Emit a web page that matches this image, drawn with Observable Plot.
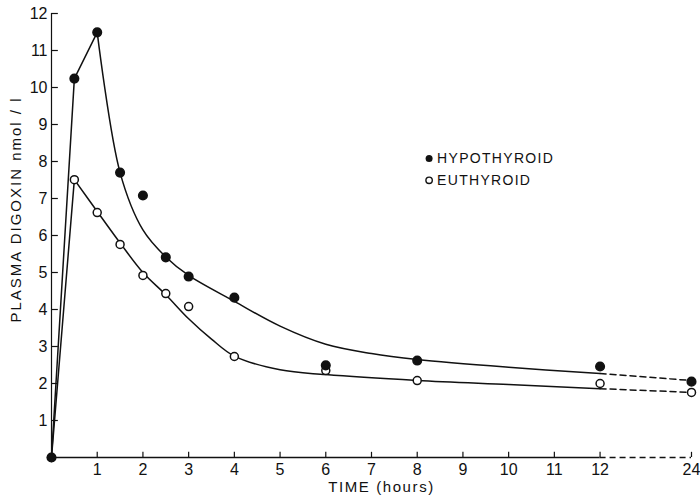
<!DOCTYPE html>
<html>
<head>
<meta charset="utf-8">
<script src="https://cdn.jsdelivr.net/npm/d3@7"></script>
<script src="https://cdn.jsdelivr.net/npm/@observablehq/plot@0.6"></script>
<style>
  html, body { margin: 0; padding: 0; background: #fff; }
  #chart svg { display: block; }
</style>
</head>
<body>
<div id="chart"></div>
<script>
// Measured data (time in hours, plasma digoxin nmol/l)
const hypoTimes  = [0, 0.5, 1, 1.5, 2, 2.5, 3, 4, 6, 8, 12, 24];
const hypoValues = [0, 10.24, 11.49, 7.70, 7.08, 5.41, 4.89, 4.32, 2.49, 2.62, 2.46, 2.05];
const euTimes    = [0, 0.5, 1, 1.5, 2, 2.5, 3, 4, 6, 8, 12, 24];
const euValues   = [0, 7.51, 6.62, 5.76, 4.92, 4.43, 4.08, 2.73, 2.35, 2.08, 2.00, 1.76];

// Fitted curves
const hypoRiseT = [0, 0.5, 1];
const hypoRiseV = [0, 10.24, 11.49];
const hypoFitT  = [1, 1.5, 2, 2.5, 3, 4, 5, 6, 7, 8, 10, 12];
const hypoFitV  = [11.49, 7.70, 6.15, 5.42, 4.92, 4.22, 3.55, 3.06, 2.81, 2.65, 2.44, 2.27];
const hypoDashT = [12, 24];
const hypoDashV = [2.27, 2.08];

const euRiseT = [0, 0.5];
const euRiseV = [0, 7.51];
const euFitT  = [0.5, 1, 1.5, 2, 2.5, 3, 3.5, 4, 5, 6, 8, 10, 12];
const euFitV  = [7.51, 6.65, 5.8, 5.0, 4.4, 3.75, 3.2, 2.74, 2.37, 2.24, 2.08, 1.97, 1.86];
const euDashT = [12, 24];
const euDashV = [1.86, 1.76];

const xTickValues = [1, 2, 3, 4, 5, 6, 7, 8, 9, 10, 11, 12, 24];
const yTickValues = [1, 2, 3, 4, 5, 6, 7, 8, 9, 10, 11, 12];

const seriesNames = ["HYPOTHYROID", "EUTHYROID"];
const xLabel = "TIME (hours)";
const yLabel = "PLASMA DIGOXIN nmol / l";

// broken axis: 12 -> 24 h is drawn compressed to 2 units
const brk = t => (t > 12 ? 12 + (t - 12) / 6 : t);
const pts = (T, V) => T.map((t, i) => ({t: brk(t), v: V[i]}));

const font = "'Liberation Sans', Arial, sans-serif";

const chart = Plot.plot({
  width: 700,
  height: 501,
  marginLeft: 51,
  marginRight: 9,
  marginTop: 13,
  marginBottom: 44,
  style: {fontFamily: font, fontSize: "15px", color: "#111", background: "#fff"},
  x: {type: "linear", domain: [0, 14]},
  y: {type: "linear", domain: [0, 12]},
  marks: [
    // axes lines
    Plot.ruleY([0], {x1: 0, x2: 12, stroke: "#111", strokeWidth: 1.4}),
    Plot.ruleY([0], {x1: 12, x2: 14, stroke: "#111", strokeWidth: 1.4, strokeDasharray: "6,4"}),
    Plot.ruleX([0], {y1: 0, y2: 12, stroke: "#111", strokeWidth: 1.2}),
    // inward ticks
    Plot.ruleX(xTickValues, {x: brk, y1: 0, y2: 0.14, stroke: "#111", strokeWidth: 1.2}),
    Plot.ruleY(yTickValues, {y: d => d, x1: 0, x2: 0.15, stroke: "#111", strokeWidth: 1.2}),
    Plot.axisX(xTickValues.map(brk), {tickSize: 0, tickPadding: 6, fontSize: 16,
      tickFormat: d => String(d > 12 ? Math.round(12 + (d - 12) * 6) : d), label: null}),
    Plot.axisY(yTickValues, {tickSize: 0, tickPadding: 4, fontSize: 16, label: null}),
    // axis titles
    Plot.text([yLabel], {frameAnchor: "left", dx: -35, dy: -26, rotate: -90, fontSize: 15,
      textAnchor: "middle"}),
    Plot.text([xLabel], {frameAnchor: "bottom", dx: 10, dy: 34, fontSize: 15,
      textAnchor: "middle"}),
    // fitted curves
    Plot.line(pts(euRiseT, euRiseV), {x: "t", y: "v", stroke: "#111", strokeWidth: 1.5}),
    Plot.line(pts(euFitT, euFitV), {x: "t", y: "v", stroke: "#111", strokeWidth: 1.5, curve: "catmull-rom"}),
    Plot.line(pts(euDashT, euDashV), {x: "t", y: "v", stroke: "#111", strokeWidth: 1.5, strokeDasharray: "6,4"}),
    Plot.line(pts(hypoRiseT, hypoRiseV), {x: "t", y: "v", stroke: "#111", strokeWidth: 1.5}),
    Plot.line(pts(hypoFitT, hypoFitV), {x: "t", y: "v", stroke: "#111", strokeWidth: 1.5, curve: "catmull-rom"}),
    Plot.line(pts(hypoDashT, hypoDashV), {x: "t", y: "v", stroke: "#111", strokeWidth: 1.5, strokeDasharray: "6,4"}),
    // observed points
    Plot.dot(pts(euTimes, euValues), {x: "t", y: "v", r: 4, fill: "#fff", stroke: "#111", strokeWidth: 1.5}),
    Plot.dot(pts(hypoTimes, hypoValues), {x: "t", y: "v", r: 4.3, fill: "#111", stroke: "#111"}),
    // legend
    Plot.dot([0], {x: 8.26, y: 8.08, r: 3.5, fill: "#111"}),
    Plot.dot([0], {x: 8.26, y: 7.49, r: 3.2, fill: "#fff", stroke: "#111", strokeWidth: 1.4}),
    Plot.text([seriesNames[0]], {x: 8.26, y: 8.08, dx: 8, textAnchor: "start", fontSize: 14}),
    Plot.text([seriesNames[1]], {x: 8.26, y: 7.49, dx: 8, textAnchor: "start", fontSize: 14})
  ]
});

// letter spacing of the typeset labels
const spacing = new Map([[yLabel, "2px"], [xLabel, "1.6px"], [seriesNames[0], "1.3px"], [seriesNames[1], "1.3px"]]);
d3.select(chart).selectAll("text").each(function() {
  const s = spacing.get(this.textContent);
  if (s) d3.select(this).style("letter-spacing", s);
});
document.getElementById("chart").appendChild(chart);
</script>
</body>
</html>
